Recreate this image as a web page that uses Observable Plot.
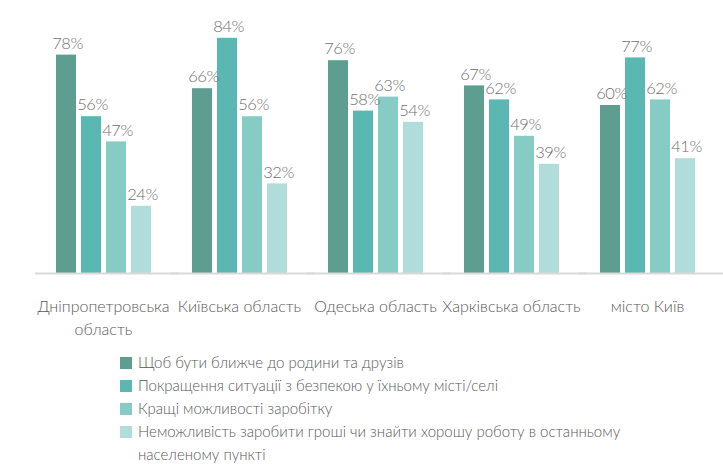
<!DOCTYPE html>
<html>
<head>
<meta charset="utf-8">
<script src="https://cdn.jsdelivr.net/npm/d3@7"></script>
<script src="https://cdn.jsdelivr.net/npm/@observablehq/plot@0.6"></script>
<style>
  body { margin: 0; background: #fff; font-family: Lato, "Open Sans", sans-serif; font-weight: 300; }
  #chart svg { display: block; }
  .legend { margin: 11px 0 0 120px; width: 580px; color: #595959; font-size: 15px; }
  .item { display: flex; align-items: flex-start; line-height: 23px; }
  .sw { width: 12px; height: 12px; flex: none; margin: 6px 6px 0 0; }
</style>
</head>
<body>
<div id="chart"></div>
<div class="legend" id="legend"></div>
<script>
const regions = ["Дніпропетровська область", "Київська область", "Одеська область", "Харківська область", "місто Київ"];
const regionLabels = ["Дніпропетровська\nобласть", "Київська область", "Одеська область", "Харківська область", "місто Київ"];
const series = [
  "Щоб бути ближче до родини та друзів",
  "Покращення ситуації з безпекою у їхньому місті/селі",
  "Кращі можливості заробітку",
  "Неможливість заробити гроші чи знайти хорошу роботу в останньому населеному пункті"
];
const colors = ["#5e9e91", "#5bb7b2", "#86cbc4", "#b0ddd9"];
const s1 = [78, 66, 76, 67, 60];
const s2 = [56, 84, 58, 62, 77];
const s3 = [47, 56, 63, 49, 62];
const s4 = [24, 32, 54, 39, 41];

const allValues = [s1, s2, s3, s4];
const data = [];
regions.forEach((r, i) => {
  series.forEach((s, j) => data.push({region: r, series: s, value: allValues[j][i]}));
});
const labelOf = new Map(regions.map((r, i) => [r, regionLabels[i]]));

const chart = Plot.plot({
  width: 723,
  height: 340,
  marginTop: 21,
  marginBottom: 67,
  marginLeft: 34,
  marginRight: 8,
  style: {fontFamily: "Lato, 'Open Sans', sans-serif", fontWeight: 300},
  fx: {domain: regions, padding: 0, axis: null},
  x: {domain: series, axis: null, paddingInner: 0.22, paddingOuter: 0.83},
  y: {domain: [0, 90], axis: null},
  color: {domain: series, range: colors},
  marks: [
    Plot.barY(data, {fx: "region", x: "series", y: "value", fill: "series"}),
    Plot.ruleY([0], {stroke: "#d9d9d9", strokeWidth: 2, insetRight: -8}),
    Plot.text(data, {fx: "region", x: "series", y: "value", text: d => d.value + "%", dy: -11, dx: 1, fill: "#6f6f6f", fontSize: 16.5, lineHeight: 0.9, style: {letterSpacing: "-0.5px"}}),
    Plot.axisFx({anchor: "bottom", label: null, tickSize: 0, tickPadding: 22, tickFormat: d => labelOf.get(d), fontSize: 16, lineHeight: 1.45, fill: "#595959"})
  ]
});
document.getElementById("chart").appendChild(chart);
chart.querySelectorAll("g[aria-label='text'] text").forEach(t => t.style.letterSpacing = "-0.5px");

const legend = document.getElementById("legend");
series.forEach((s, j) => {
  const item = document.createElement("div");
  item.className = "item";
  const sw = document.createElement("div");
  sw.className = "sw";
  sw.style.background = colors[j];
  const tx = document.createElement("div");
  tx.textContent = s;
  item.appendChild(sw);
  item.appendChild(tx);
  legend.appendChild(item);
});
</script>
</body>
</html>
